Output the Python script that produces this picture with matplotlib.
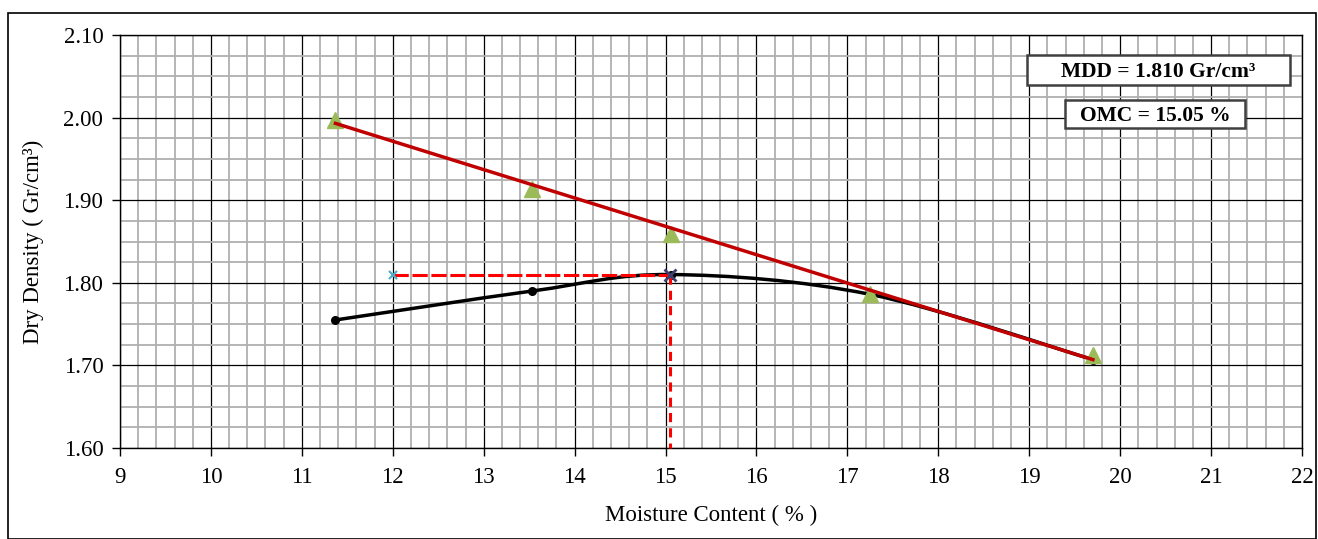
import numpy as np
import matplotlib
matplotlib.use('Agg')
import matplotlib.pyplot as plt
from matplotlib.path import Path
from matplotlib.patches import PathPatch, Rectangle
from matplotlib.ticker import MultipleLocator

plt.rcParams['font.family'] = ['Liberation Serif', 'DejaVu Serif']

# compaction curve points
mc = [11.37, 13.53, 15.06, 17.25, 19.70]
dd = [1.755, 1.790, 1.810, 1.786, 1.707]
# zero air voids points
zav_mc = [11.37, 13.53, 15.06, 17.25, 19.70]
zav_dd = [1.997, 1.913, 1.859, 1.787, 1.712]
# red line ends
line_mc = [11.37, 19.70]
line_dd = [1.993, 1.707]
# MDD / OMC
omc = 15.05
mdd = 1.810
start_mc = 12.0
ymin = 1.60

W, H = 1318, 539
fig = plt.figure(figsize=(W / 100, H / 100), dpi=100)
ax = fig.add_axes([120 / W, 1 - 448 / H, (1302 - 120) / W, (448 - 35) / H])

ax.set_xlim(9, 22)
ax.set_ylim(1.60, 2.10)
ax.xaxis.set_major_locator(MultipleLocator(1))
ax.xaxis.set_minor_locator(MultipleLocator(0.2))
ax.yaxis.set_major_locator(MultipleLocator(0.1))
ax.yaxis.set_minor_locator(MultipleLocator(0.025))
ax.grid(which='minor', color='#b0b0b0', lw=1.3, zorder=0)
ax.grid(which='major', color='black', lw=0.9, zorder=0)
ax.set_axisbelow(True)
ax.yaxis.set_major_formatter(matplotlib.ticker.FormatStrFormatter('%.2f'))
ax.tick_params(which='major', direction='out', length=6, width=1, labelsize=16.5, pad=6)
ax.tick_params(axis='x', pad=8)
ax.tick_params(which='minor', length=0)
for s in ax.spines.values():
    s.set_color('black')
    s.set_linewidth(1)

# smooth black curve (bezier path through the points)
pts = np.column_stack([mc, dd])
verts = [tuple(pts[0])]
codes = [Path.MOVETO]
n = len(pts)
for i in range(n - 1):
    p0 = pts[i - 1] if i > 0 else pts[i]
    p1 = pts[i]
    p2 = pts[i + 1]
    p3 = pts[i + 2] if i + 2 < n else pts[i + 1]
    c1 = p1 + (p2 - p0) / 6
    c2 = p2 - (p3 - p1) / 6
    verts += [tuple(c1), tuple(c2), tuple(p2)]
    codes += [Path.CURVE4] * 3
ax.add_patch(PathPatch(Path(verts, codes), fc='none', ec='black', lw=2.5, zorder=3))
ax.plot(mc, dd, 'o', color='black', ms=5.5, zorder=4)

# ZAV
ax.plot(line_mc, line_dd, color='#c00000', lw=2.5, zorder=5)
ax.plot(zav_mc, zav_dd, '^', color='#9bbb59', ms=12, zorder=4)

# MDD / OMC guides
ax.plot([start_mc, omc], [mdd, mdd], color='#ff0000', lw=2.2, ls=(0, (5, 1.2)), zorder=5)
ax.plot([omc, omc], [mdd, ymin], color='#ff0000', lw=2.2, ls=(0, (3, 2)), zorder=5, clip_on=False)
ax.plot([start_mc], [mdd], 'x', color='#4bacc6', ms=6, mew=1.5, zorder=6)
ax.plot([omc], [mdd], 'x', color='#3f3f6f', ms=8, mew=2, zorder=6)

ax.set_xlabel('Moisture Content ( % )', fontsize=16.5, labelpad=12)
ax.set_ylabel('Dry Density ( Gr/cm³)', fontsize=16.5, labelpad=14)

# annotation boxes
for (x0, y0, x1, y1), label in [((1027, 55, 1290, 85), 'MDD = 1.810 Gr/cm³'),
                                ((1065, 100, 1245, 128), 'OMC = 15.05 %')]:
    fig.add_artist(Rectangle((x0 / W, 1 - y1 / H), (x1 - x0) / W, (y1 - y0) / H,
                             transform=fig.transFigure, fc='white', ec='#404040', lw=1.8, zorder=10))
    fig.text((x0 + x1) / 2 / W, 1 - ((y0 + y1) / 2 + 2) / H, label, ha='center', va='center',
             fontsize=15.5, fontweight='bold', zorder=11)

fig.add_artist(Rectangle((8 / W, 0), 1308 / W, 1 - 13 / H, transform=fig.transFigure,
                         fill=False, ec='black', lw=1.2))

fig.savefig('out.png', dpi=100)
